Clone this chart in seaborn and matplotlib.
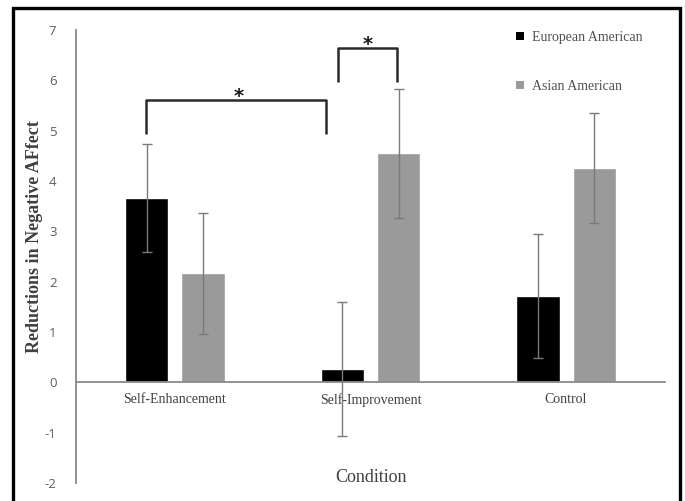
import matplotlib
matplotlib.use("Agg")
import matplotlib.pyplot as plt
from matplotlib.patches import Rectangle, Patch
import seaborn as sns
import pandas as pd
import numpy as np

conditions = ["Self-Enhancement", "Self-Improvement", "Control"]
groups = ["European American", "Asian American"]
european_means = [3.66, 0.27, 1.72]
european_err = [1.08, 1.33, 1.23]
asian_means = [2.17, 4.55, 4.26]
asian_err = [1.20, 1.28, 1.10]
y_ticks = [-2, -1, 0, 1, 2, 3, 4, 5, 6, 7]

df = pd.DataFrame({
    "Condition": conditions * 2,
    "Group": [groups[0]] * 3 + [groups[1]] * 3,
    "Value": european_means + asian_means,
    "Err": european_err + asian_err,
})

sns.set_theme(style="white")
plt.rcParams["font.family"] = ["Liberation Serif", "DejaVu Serif"]

W, H = 685, 501
fig = plt.figure(figsize=(W / 100, H / 100), dpi=100)
ax = fig.add_axes([76 / W, 1 - 483 / H, (665 - 76) / W, (483 - 30) / H])

palette = {groups[0]: "#000000", groups[1]: "#9a9a9a"}
sns.barplot(data=df, x="Condition", y="Value", hue="Group", order=conditions,
            hue_order=groups, palette=palette, width=0.576, gap=0.23,
            errorbar=None, saturation=1, ax=ax, legend=False)

# error bars at bar centres
bars = [p for p in ax.patches if isinstance(p, Rectangle)]
errs = european_err + asian_err
for p, e in zip(bars, errs):
    cx = p.get_x() + p.get_width() / 2
    ax.errorbar(cx, p.get_height(), yerr=e, color="#7a7a7a", lw=1.0,
                capsize=3.5, capthick=1.0, zorder=5)

ax.set_xlim(-0.506, 2.506)
ax.set_ylim(-2, 7)
ax.set_yticks(y_ticks)
ax.set_yticklabels([str(t) for t in y_ticks], family=["Open Sans", "DejaVu Sans"],
                   fontsize=9.5, color="#5e5e5e")
ax.tick_params(axis="y", length=0, pad=14)
ax.tick_params(axis="x", length=0, pad=8, labelsize=10, labelcolor="#404040")
for lbl in ax.get_xticklabels():
    lbl.set_family(["Liberation Serif", "DejaVu Serif"])
ax.set_xlabel("")
ax.set_ylabel("")
for s in ["top", "right"]:
    ax.spines[s].set_visible(False)
ax.spines["bottom"].set_position(("data", 0))
ax.spines["bottom"].set_color("#8a8a8a")
ax.spines["bottom"].set_linewidth(1.3)
ax.spines["left"].set_color("#8a8a8a")
ax.spines["left"].set_linewidth(1.3)
ax.set_facecolor("white")

# significance brackets
bcol = "#2a2a2a"
ax.plot([-0.15, -0.15, 0.77, 0.77], [4.93, 5.61, 5.61, 4.93], color=bcol, lw=1.8,
        solid_capstyle="butt", clip_on=False)
ax.text(0.326, 5.56, "*", ha="center", va="baseline", fontsize=14, fontweight="bold",
        color="#1a1a1a", family="DejaVu Sans")
ax.plot([0.834, 0.834, 1.137, 1.137], [5.97, 6.65, 6.65, 5.97], color=bcol, lw=1.8,
        solid_capstyle="butt", clip_on=False)
ax.text(0.984, 6.60, "*", ha="center", va="baseline", fontsize=14, fontweight="bold",
        color="#1a1a1a", family="DejaVu Sans")

# legend
handles = [Patch(facecolor=palette[g], edgecolor="none") for g in groups]
ax.legend(handles, groups, loc="upper left", bbox_to_anchor=(516 / W, 1 - 31 / H),
          bbox_transform=fig.transFigure, frameon=False, handlelength=0.55,
          handleheight=0.55, handletextpad=0.6, labelspacing=2.6, fontsize=10,
          borderpad=0, borderaxespad=0, labelcolor="#505050")

fig.text(35 / W, 1 - 237 / H, "Reductions in Negative AFfect", rotation=90,
         ha="center", va="center", fontsize=13, fontweight="bold", color="#404040")
fig.text(371 / W, 1 - 478 / H, "Condition", ha="center", va="center",
         fontsize=13, color="#404040")

# outer black frame
fig.patches.append(Rectangle((13 / W, -0.05), (680 - 13) / W, 1.05 - 8 / H,
                             transform=fig.transFigure, fill=False,
                             edgecolor="black", lw=2.4, zorder=10))

fig.savefig("out.png", dpi=100, facecolor="white")
